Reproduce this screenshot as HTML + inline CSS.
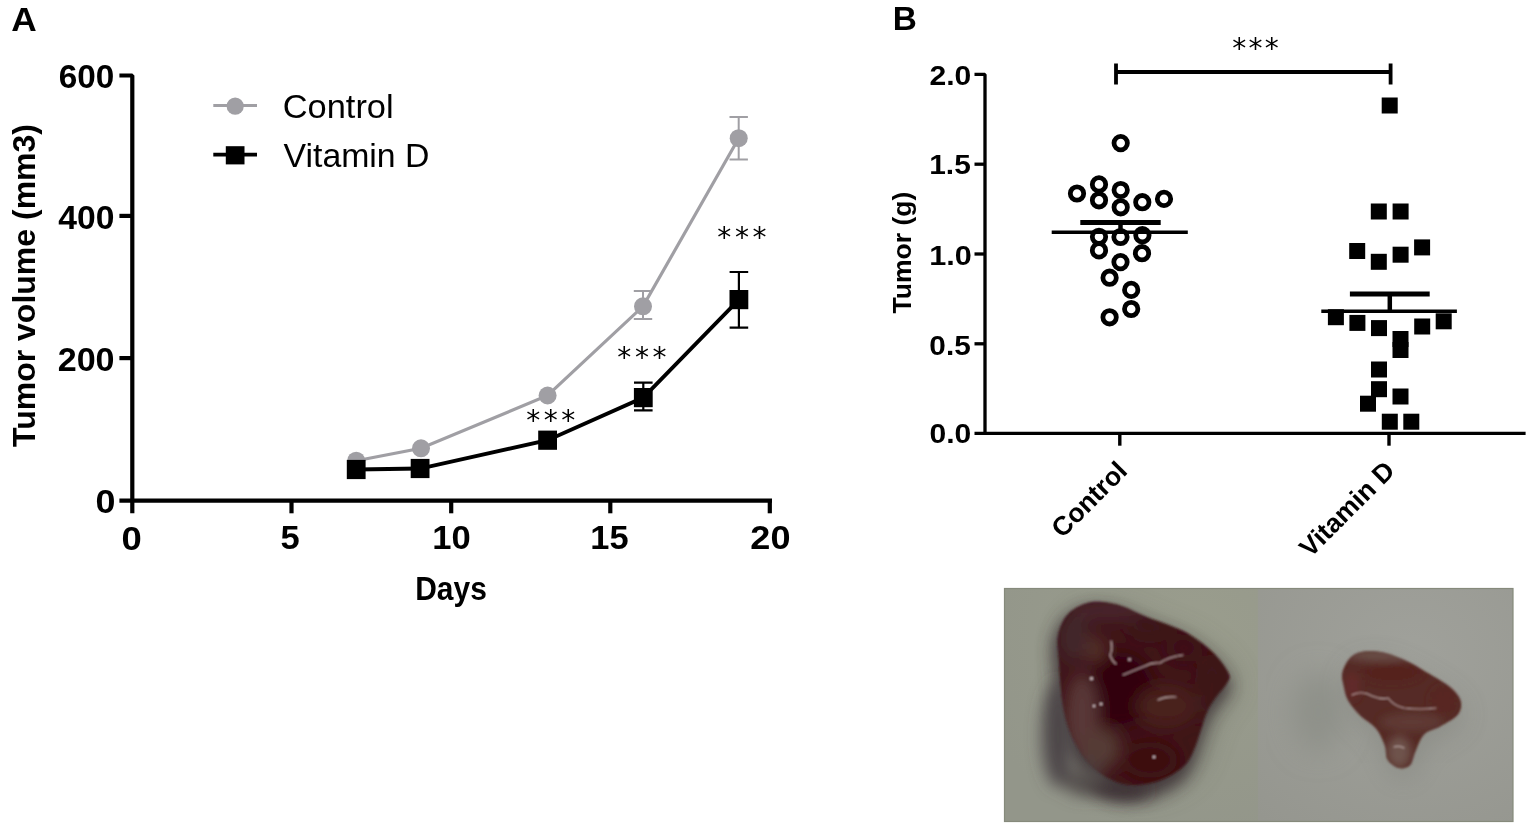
<!DOCTYPE html>
<html><head><meta charset="utf-8"><title>Figure</title>
<style>
html,body{margin:0;padding:0;background:#fff;}
body{width:1536px;height:831px;overflow:hidden;}
svg{display:block;}
svg text{font-family:"Liberation Sans", Arial, sans-serif;fill:#000;}
</style></head><body>
<svg width="1536" height="831" viewBox="0 0 1536 831">
<rect width="1536" height="831" fill="#fff"/>
<defs>
<clipPath id="cl"><rect x="1004" y="588" width="254.3" height="234"/></clipPath>
<clipPath id="cr"><rect x="1257.7" y="588" width="255.3" height="234"/></clipPath>
<clipPath id="tl"><path d="M1060.3 627.4 C1062.2 622.7 1064.6 617.3 1068.8 613.3 C1073.0 609.3 1080.1 605.4 1085.7 603.5 C1091.3 601.6 1096.5 601.6 1102.6 602.1 C1108.7 602.6 1115.3 603.9 1122.3 606.3 C1129.3 608.6 1137.3 613.2 1144.8 616.2 C1152.3 619.2 1160.3 621.8 1167.3 624.6 C1174.3 627.4 1180.4 629.4 1187.0 633.1 C1193.6 636.9 1201.2 642.4 1206.8 647.1 C1212.4 651.8 1217.0 656.5 1220.8 661.2 C1224.5 665.9 1228.3 671.5 1229.3 675.3 C1230.2 679.0 1228.8 680.0 1226.5 683.7 C1224.2 687.5 1218.5 693.1 1215.2 697.8 C1211.9 702.5 1209.2 706.7 1206.8 711.9 C1204.4 717.1 1203.0 723.2 1201.1 728.8 C1199.2 734.4 1197.8 740.1 1195.5 745.7 C1193.2 751.3 1190.8 757.9 1187.0 762.6 C1183.2 767.3 1178.6 770.6 1173.0 773.9 C1167.4 777.2 1160.3 780.4 1153.3 782.3 C1146.2 784.2 1137.8 785.6 1130.7 785.1 C1123.7 784.6 1117.1 782.3 1111.0 779.5 C1104.9 776.7 1099.3 772.9 1094.1 768.2 C1088.9 763.5 1084.2 757.9 1080.0 751.3 C1075.8 744.7 1071.6 736.3 1068.8 728.8 C1066.0 721.3 1064.5 714.3 1063.1 706.3 C1061.7 698.3 1061.0 688.9 1060.3 680.9 C1059.6 672.9 1059.4 665.0 1058.9 658.4 C1058.4 651.8 1057.3 646.7 1057.5 641.5 C1057.7 636.3 1058.4 632.1 1060.3 627.4Z"/></clipPath>
<clipPath id="tr"><path d="M1342.4 672.4 C1343.6 667.5 1347.1 660.5 1350.9 657.0 C1354.7 653.5 1359.4 652.0 1365.0 651.3 C1370.6 650.6 1377.7 651.1 1384.7 652.7 C1391.7 654.4 1400.2 657.9 1407.2 661.2 C1414.2 664.5 1419.9 668.2 1426.9 672.4 C1433.9 676.6 1443.8 681.8 1449.4 686.5 C1455.0 691.2 1459.2 695.9 1460.6 700.6 C1462.0 705.3 1461.1 710.5 1457.8 714.7 C1454.5 718.9 1446.5 722.6 1440.9 725.9 C1435.3 729.2 1428.3 730.2 1424.1 734.4 C1419.9 738.6 1417.9 746.1 1415.6 751.2 C1413.2 756.4 1412.8 762.5 1410.0 765.3 C1407.2 768.1 1402.5 769.0 1398.7 768.1 C1395.0 767.2 1389.8 763.5 1387.5 759.7 C1385.2 756.0 1386.6 750.8 1384.7 745.6 C1382.8 740.4 1380.4 733.9 1376.2 728.7 C1372.0 723.6 1364.0 719.4 1359.3 714.7 C1354.6 710.0 1350.7 705.3 1348.1 700.6 C1345.5 695.9 1344.8 691.2 1343.8 686.5 C1342.8 681.8 1341.2 677.3 1342.4 672.4Z"/></clipPath>
<filter id="b1" x="-20%" y="-20%" width="140%" height="140%"><feGaussianBlur stdDeviation="1.3"/></filter>
<filter id="b4" x="-50%" y="-50%" width="200%" height="200%"><feGaussianBlur stdDeviation="4"/></filter>
<filter id="b8" x="-50%" y="-50%" width="200%" height="200%"><feGaussianBlur stdDeviation="8"/></filter>
<filter id="b14" x="-50%" y="-50%" width="200%" height="200%"><feGaussianBlur stdDeviation="14"/></filter>
<radialGradient id="gl" cx="0.75" cy="0.2" r="0.9"><stop offset="0" stop-color="#9a9d8d"/><stop offset="1" stop-color="#93968a"/></radialGradient>
<radialGradient id="gr" cx="0.6" cy="0.3" r="0.9"><stop offset="0" stop-color="#a0a19b"/><stop offset="1" stop-color="#95968f"/></radialGradient>
</defs>
<g clip-path="url(#cl)">
<rect x="1004" y="588" width="254.5" height="234" fill="url(#gl)"/>
<g filter="url(#b14)" opacity="0.5"><path d="M1060.3 627.4 C1062.2 622.7 1064.6 617.3 1068.8 613.3 C1073.0 609.3 1080.1 605.4 1085.7 603.5 C1091.3 601.6 1096.5 601.6 1102.6 602.1 C1108.7 602.6 1115.3 603.9 1122.3 606.3 C1129.3 608.6 1137.3 613.2 1144.8 616.2 C1152.3 619.2 1160.3 621.8 1167.3 624.6 C1174.3 627.4 1180.4 629.4 1187.0 633.1 C1193.6 636.9 1201.2 642.4 1206.8 647.1 C1212.4 651.8 1217.0 656.5 1220.8 661.2 C1224.5 665.9 1228.3 671.5 1229.3 675.3 C1230.2 679.0 1228.8 680.0 1226.5 683.7 C1224.2 687.5 1218.5 693.1 1215.2 697.8 C1211.9 702.5 1209.2 706.7 1206.8 711.9 C1204.4 717.1 1203.0 723.2 1201.1 728.8 C1199.2 734.4 1197.8 740.1 1195.5 745.7 C1193.2 751.3 1190.8 757.9 1187.0 762.6 C1183.2 767.3 1178.6 770.6 1173.0 773.9 C1167.4 777.2 1160.3 780.4 1153.3 782.3 C1146.2 784.2 1137.8 785.6 1130.7 785.1 C1123.7 784.6 1117.1 782.3 1111.0 779.5 C1104.9 776.7 1099.3 772.9 1094.1 768.2 C1088.9 763.5 1084.2 757.9 1080.0 751.3 C1075.8 744.7 1071.6 736.3 1068.8 728.8 C1066.0 721.3 1064.5 714.3 1063.1 706.3 C1061.7 698.3 1061.0 688.9 1060.3 680.9 C1059.6 672.9 1059.4 665.0 1058.9 658.4 C1058.4 651.8 1057.3 646.7 1057.5 641.5 C1057.7 636.3 1058.4 632.1 1060.3 627.4Z" transform="translate(6 8)" fill="#55574e"/></g>
<g filter="url(#b8)" opacity="0.95"><path d="M1060.3 627.4 C1062.2 622.7 1064.6 617.3 1068.8 613.3 C1073.0 609.3 1080.1 605.4 1085.7 603.5 C1091.3 601.6 1096.5 601.6 1102.6 602.1 C1108.7 602.6 1115.3 603.9 1122.3 606.3 C1129.3 608.6 1137.3 613.2 1144.8 616.2 C1152.3 619.2 1160.3 621.8 1167.3 624.6 C1174.3 627.4 1180.4 629.4 1187.0 633.1 C1193.6 636.9 1201.2 642.4 1206.8 647.1 C1212.4 651.8 1217.0 656.5 1220.8 661.2 C1224.5 665.9 1228.3 671.5 1229.3 675.3 C1230.2 679.0 1228.8 680.0 1226.5 683.7 C1224.2 687.5 1218.5 693.1 1215.2 697.8 C1211.9 702.5 1209.2 706.7 1206.8 711.9 C1204.4 717.1 1203.0 723.2 1201.1 728.8 C1199.2 734.4 1197.8 740.1 1195.5 745.7 C1193.2 751.3 1190.8 757.9 1187.0 762.6 C1183.2 767.3 1178.6 770.6 1173.0 773.9 C1167.4 777.2 1160.3 780.4 1153.3 782.3 C1146.2 784.2 1137.8 785.6 1130.7 785.1 C1123.7 784.6 1117.1 782.3 1111.0 779.5 C1104.9 776.7 1099.3 772.9 1094.1 768.2 C1088.9 763.5 1084.2 757.9 1080.0 751.3 C1075.8 744.7 1071.6 736.3 1068.8 728.8 C1066.0 721.3 1064.5 714.3 1063.1 706.3 C1061.7 698.3 1061.0 688.9 1060.3 680.9 C1059.6 672.9 1059.4 665.0 1058.9 658.4 C1058.4 651.8 1057.3 646.7 1057.5 641.5 C1057.7 636.3 1058.4 632.1 1060.3 627.4Z" transform="translate(1130 690) scale(1.03 1.05) translate(-1133 -680)" fill="#42383a"/></g>
<g filter="url(#b8)"><ellipse cx="1058" cy="735" rx="16" ry="52" fill="#4e4648"/><ellipse cx="1085" cy="782" rx="22" ry="14" fill="#55504e"/><ellipse cx="1118" cy="790" rx="30" ry="9" fill="#3e3234"/></g>
<g filter="url(#b1)">
<path d="M1060.3 627.4 C1062.2 622.7 1064.6 617.3 1068.8 613.3 C1073.0 609.3 1080.1 605.4 1085.7 603.5 C1091.3 601.6 1096.5 601.6 1102.6 602.1 C1108.7 602.6 1115.3 603.9 1122.3 606.3 C1129.3 608.6 1137.3 613.2 1144.8 616.2 C1152.3 619.2 1160.3 621.8 1167.3 624.6 C1174.3 627.4 1180.4 629.4 1187.0 633.1 C1193.6 636.9 1201.2 642.4 1206.8 647.1 C1212.4 651.8 1217.0 656.5 1220.8 661.2 C1224.5 665.9 1228.3 671.5 1229.3 675.3 C1230.2 679.0 1228.8 680.0 1226.5 683.7 C1224.2 687.5 1218.5 693.1 1215.2 697.8 C1211.9 702.5 1209.2 706.7 1206.8 711.9 C1204.4 717.1 1203.0 723.2 1201.1 728.8 C1199.2 734.4 1197.8 740.1 1195.5 745.7 C1193.2 751.3 1190.8 757.9 1187.0 762.6 C1183.2 767.3 1178.6 770.6 1173.0 773.9 C1167.4 777.2 1160.3 780.4 1153.3 782.3 C1146.2 784.2 1137.8 785.6 1130.7 785.1 C1123.7 784.6 1117.1 782.3 1111.0 779.5 C1104.9 776.7 1099.3 772.9 1094.1 768.2 C1088.9 763.5 1084.2 757.9 1080.0 751.3 C1075.8 744.7 1071.6 736.3 1068.8 728.8 C1066.0 721.3 1064.5 714.3 1063.1 706.3 C1061.7 698.3 1061.0 688.9 1060.3 680.9 C1059.6 672.9 1059.4 665.0 1058.9 658.4 C1058.4 651.8 1057.3 646.7 1057.5 641.5 C1057.7 636.3 1058.4 632.1 1060.3 627.4Z" fill="#3f1418"/>
<g clip-path="url(#tl)"><g filter="url(#b8)">
<ellipse cx="1120" cy="690" rx="34" ry="38" fill="#32050a"/>
<ellipse cx="1074" cy="638" rx="18" ry="26" fill="#43282b"/>
<ellipse cx="1110" cy="610" rx="40" ry="9" fill="#4a2c30"/>
<ellipse cx="1150" cy="628" rx="22" ry="10" fill="#3a1414"/>
<ellipse cx="1184" cy="648" rx="18" ry="14" fill="#3e0e12"/>
<ellipse cx="1212" cy="690" rx="12" ry="35" fill="#3e1818"/>
<ellipse cx="1082" cy="715" rx="16" ry="42" fill="#5a3838"/>
<ellipse cx="1102" cy="748" rx="18" ry="20" fill="#553a36"/>
<ellipse cx="1166" cy="706" rx="30" ry="20" fill="#48231f"/>
<ellipse cx="1150" cy="760" rx="28" ry="18" fill="#3c090e"/>
<ellipse cx="1085" cy="772" rx="18" ry="16" fill="#4e3a3a"/>
<ellipse cx="1096" cy="650" rx="10" ry="13" fill="#54302a"/>
</g></g>
<g fill="none" stroke="#d8c4c4" stroke-width="1.2" stroke-linecap="round" opacity="0.8">
<path d="M1111 641 Q1113 650 1110 655 Q1112 661 1116 664"/>
<path d="M1123 675 Q1135 670 1145 666 Q1152 662 1160 663 Q1168 657 1183 655"/>
<path d="M1158 700 Q1166 696 1176 697"/>
</g>
<g fill="#d8c4c8"><circle cx="1091.5" cy="678.5" r="1.5"/><circle cx="1101" cy="704" r="1.3"/><circle cx="1094" cy="706" r="1.2"/><circle cx="1154" cy="757" r="1.3"/><circle cx="1129.5" cy="659.5" r="1.3"/></g>
</g>
</g>
<g clip-path="url(#cr)">
<rect x="1257.7" y="588" width="256" height="234" fill="url(#gr)"/>
<g filter="url(#b14)" opacity="0.3"><path d="M1342.4 672.4 C1343.6 667.5 1347.1 660.5 1350.9 657.0 C1354.7 653.5 1359.4 652.0 1365.0 651.3 C1370.6 650.6 1377.7 651.1 1384.7 652.7 C1391.7 654.4 1400.2 657.9 1407.2 661.2 C1414.2 664.5 1419.9 668.2 1426.9 672.4 C1433.9 676.6 1443.8 681.8 1449.4 686.5 C1455.0 691.2 1459.2 695.9 1460.6 700.6 C1462.0 705.3 1461.1 710.5 1457.8 714.7 C1454.5 718.9 1446.5 722.6 1440.9 725.9 C1435.3 729.2 1428.3 730.2 1424.1 734.4 C1419.9 738.6 1417.9 746.1 1415.6 751.2 C1413.2 756.4 1412.8 762.5 1410.0 765.3 C1407.2 768.1 1402.5 769.0 1398.7 768.1 C1395.0 767.2 1389.8 763.5 1387.5 759.7 C1385.2 756.0 1386.6 750.8 1384.7 745.6 C1382.8 740.4 1380.4 733.9 1376.2 728.7 C1372.0 723.6 1364.0 719.4 1359.3 714.7 C1354.6 710.0 1350.7 705.3 1348.1 700.6 C1345.5 695.9 1344.8 691.2 1343.8 686.5 C1342.8 681.8 1341.2 677.3 1342.4 672.4Z" transform="translate(2 10)" fill="#6a6c66"/></g>
<g filter="url(#b14)"><ellipse cx="1318" cy="712" rx="26" ry="40" fill="#8c8d87" opacity="0.8"/></g>
<g filter="url(#b1)">
<path d="M1342.4 672.4 C1343.6 667.5 1347.1 660.5 1350.9 657.0 C1354.7 653.5 1359.4 652.0 1365.0 651.3 C1370.6 650.6 1377.7 651.1 1384.7 652.7 C1391.7 654.4 1400.2 657.9 1407.2 661.2 C1414.2 664.5 1419.9 668.2 1426.9 672.4 C1433.9 676.6 1443.8 681.8 1449.4 686.5 C1455.0 691.2 1459.2 695.9 1460.6 700.6 C1462.0 705.3 1461.1 710.5 1457.8 714.7 C1454.5 718.9 1446.5 722.6 1440.9 725.9 C1435.3 729.2 1428.3 730.2 1424.1 734.4 C1419.9 738.6 1417.9 746.1 1415.6 751.2 C1413.2 756.4 1412.8 762.5 1410.0 765.3 C1407.2 768.1 1402.5 769.0 1398.7 768.1 C1395.0 767.2 1389.8 763.5 1387.5 759.7 C1385.2 756.0 1386.6 750.8 1384.7 745.6 C1382.8 740.4 1380.4 733.9 1376.2 728.7 C1372.0 723.6 1364.0 719.4 1359.3 714.7 C1354.6 710.0 1350.7 705.3 1348.1 700.6 C1345.5 695.9 1344.8 691.2 1343.8 686.5 C1342.8 681.8 1341.2 677.3 1342.4 672.4Z" fill="#552a25"/>
<g clip-path="url(#tr)"><g filter="url(#b4)">
<ellipse cx="1380" cy="655" rx="35" ry="6" fill="#6a5048"/>
<ellipse cx="1392" cy="672" rx="30" ry="10" fill="#54221f"/>
<ellipse cx="1352" cy="686" rx="7" ry="14" fill="#642a2a"/>
<ellipse cx="1443" cy="701" rx="12" ry="14" fill="#582824"/>
<ellipse cx="1412" cy="722" rx="32" ry="9" fill="#5f3a35"/>
<ellipse cx="1399" cy="752" rx="12" ry="16" fill="#6e524c"/>
</g></g>
<g fill="none" stroke="#dcc8c8" stroke-width="1.1" stroke-linecap="round" opacity="0.7">
<path d="M1352 695 Q1362 690 1372 696 Q1382 700 1388 698 Q1394 706 1404 708 Q1420 710 1436 708"/>
<path d="M1394 747 Q1399 745 1404 748"/>
</g>
</g>
</g>
<rect x="1004.5" y="588.5" width="508.5" height="233" fill="none" stroke="#868a7c" stroke-width="1.2"/>
<g>
<path d="M119.4 75.5 H132.3 V513.3" stroke="#000" stroke-width="4.2" fill="none" stroke-linejoin="bevel"/>
<path d="M119.4 500.6 H772" stroke="#000" stroke-width="4.2" fill="none"/>
<line x1="119.4" y1="215.9" x2="132.3" y2="215.9" stroke="#000" stroke-width="4.2"/>
<line x1="119.4" y1="358.1" x2="132.3" y2="358.1" stroke="#000" stroke-width="4.2"/>
<path d="M769.8 500.6 V513.3" stroke="#000" stroke-width="4.2" fill="none"/>
<line x1="291.5" y1="500.6" x2="291.5" y2="513.3" stroke="#000" stroke-width="4.2"/>
<line x1="451.2" y1="500.6" x2="451.2" y2="513.3" stroke="#000" stroke-width="4.2"/>
<line x1="610.3" y1="500.6" x2="610.3" y2="513.3" stroke="#000" stroke-width="4.2"/>
<polyline points="356.2,460.7 421.0,448.3 547.6,395.5 643.0,306.3 738.7,138.2" stroke="#a09fa4" stroke-width="3.2" fill="none"/>
<path d="M643.0 291.0 V319.0 M633.8 291.0 H652.2 M633.8 319.0 H652.2" stroke="#a09fa4" stroke-width="2" fill="none"/>
<path d="M738.7 117.1 V159.5 M729.5 117.1 H747.9000000000001 M729.5 159.5 H747.9000000000001" stroke="#a09fa4" stroke-width="2" fill="none"/>
<circle cx="356.2" cy="460.7" r="9" fill="#a09fa4"/>
<circle cx="421.0" cy="448.3" r="9" fill="#a09fa4"/>
<circle cx="547.6" cy="395.5" r="9" fill="#a09fa4"/>
<circle cx="643.0" cy="306.3" r="9" fill="#a09fa4"/>
<circle cx="738.7" cy="138.2" r="9" fill="#a09fa4"/>
<polyline points="356.2,469.5 420.1,468.5 547.6,440.2 643.3,397.6 738.9,299.6" stroke="#000" stroke-width="3.8" fill="none"/>
<path d="M643.3 382.7 V410.3 M634.0 382.7 H652.5999999999999 M634.0 410.3 H652.5999999999999" stroke="#000" stroke-width="2.2" fill="none"/>
<path d="M738.9 272.0 V327.6 M729.6 272.0 H748.1999999999999 M729.6 327.6 H748.1999999999999" stroke="#000" stroke-width="2.2" fill="none"/>
<rect x="346.8" y="459.9" width="18.8" height="19.2" fill="#000"/>
<rect x="410.70000000000005" y="458.9" width="18.8" height="19.2" fill="#000"/>
<rect x="538.2" y="430.59999999999997" width="18.8" height="19.2" fill="#000"/>
<rect x="633.9" y="388.0" width="18.8" height="19.2" fill="#000"/>
<rect x="729.5" y="290.0" width="18.8" height="19.2" fill="#000"/>
<line x1="213.3" y1="105.5" x2="257" y2="105.5" stroke="#a09fa4" stroke-width="3.2"/>
<circle cx="235.2" cy="106.2" r="8.6" fill="#a09fa4"/>
<line x1="213.3" y1="154.7" x2="257" y2="154.7" stroke="#000" stroke-width="3.8"/>
<rect x="225.8" y="146.2" width="18.7" height="18.2" fill="#000"/>
</g>
<g>
<path d="M974.5 74.4 H985 V433.6" stroke="#000" stroke-width="3.3" fill="none" stroke-linejoin="bevel"/>
<path d="M974.5 433.4 H1525.6" stroke="#000" stroke-width="3.4" fill="none"/>
<line x1="974.5" y1="164.2" x2="985" y2="164.2" stroke="#000" stroke-width="3.3"/>
<line x1="974.5" y1="254.0" x2="985" y2="254.0" stroke="#000" stroke-width="3.3"/>
<line x1="974.5" y1="343.8" x2="985" y2="343.8" stroke="#000" stroke-width="3.3"/>
<line x1="1119.8" y1="433.6" x2="1119.8" y2="445.7" stroke="#000" stroke-width="3.4"/>
<line x1="1389.0" y1="433.6" x2="1389.0" y2="445.7" stroke="#000" stroke-width="3.4"/>
<path d="M1116 63.5 V84.4 M1390.6 63.5 V84.4 M1116 72 H1390.6" stroke="#000" stroke-width="3.8" fill="none"/>
<circle cx="1120.7" cy="143.1" r="6.7" fill="none" stroke="#000" stroke-width="4.8"/>
<circle cx="1077" cy="193.5" r="6.7" fill="none" stroke="#000" stroke-width="4.8"/>
<circle cx="1099" cy="184.4" r="6.7" fill="none" stroke="#000" stroke-width="4.8"/>
<circle cx="1099" cy="200.3" r="6.7" fill="none" stroke="#000" stroke-width="4.8"/>
<circle cx="1120.7" cy="190" r="6.7" fill="none" stroke="#000" stroke-width="4.8"/>
<circle cx="1120.7" cy="207.3" r="6.7" fill="none" stroke="#000" stroke-width="4.8"/>
<circle cx="1142.3" cy="202.2" r="6.7" fill="none" stroke="#000" stroke-width="4.8"/>
<circle cx="1164" cy="198.9" r="6.7" fill="none" stroke="#000" stroke-width="4.8"/>
<circle cx="1099" cy="236.75" r="6.7" fill="none" stroke="#000" stroke-width="4.8"/>
<circle cx="1120.5" cy="237" r="6.7" fill="none" stroke="#000" stroke-width="4.8"/>
<circle cx="1142.4" cy="235.2" r="6.7" fill="none" stroke="#000" stroke-width="4.8"/>
<circle cx="1099" cy="250.4" r="6.7" fill="none" stroke="#000" stroke-width="4.8"/>
<circle cx="1142" cy="253.2" r="6.7" fill="none" stroke="#000" stroke-width="4.8"/>
<circle cx="1120.5" cy="262.1" r="6.7" fill="none" stroke="#000" stroke-width="4.8"/>
<circle cx="1109.6" cy="277.7" r="6.7" fill="none" stroke="#000" stroke-width="4.8"/>
<circle cx="1131.2" cy="289.9" r="6.7" fill="none" stroke="#000" stroke-width="4.8"/>
<circle cx="1131.2" cy="309" r="6.7" fill="none" stroke="#000" stroke-width="4.8"/>
<circle cx="1109.6" cy="317.3" r="6.7" fill="none" stroke="#000" stroke-width="4.8"/>
<line x1="1051.7" y1="232.3" x2="1187.8" y2="232.3" stroke="#000" stroke-width="3.6"/>
<line x1="1080.3" y1="222.5" x2="1160.7" y2="222.5" stroke="#000" stroke-width="5"/>
<line x1="1120.5" y1="222.5" x2="1120.5" y2="232.3" stroke="#000" stroke-width="4.5"/>
<rect x="1381.7" y="97.5" width="16" height="16" fill="#000"/>
<rect x="1370.8" y="203.5" width="16" height="16" fill="#000"/>
<rect x="1392.6" y="203.5" width="16" height="16" fill="#000"/>
<rect x="1349.2" y="243" width="16" height="16" fill="#000"/>
<rect x="1370.8" y="253.8" width="16" height="16" fill="#000"/>
<rect x="1392.6" y="246.7" width="16" height="16" fill="#000"/>
<rect x="1414.1" y="239.4" width="16" height="16" fill="#000"/>
<rect x="1327.9" y="309.2" width="16" height="16" fill="#000"/>
<rect x="1349.4" y="314.9" width="16" height="16" fill="#000"/>
<rect x="1371" y="320.1" width="16" height="16" fill="#000"/>
<rect x="1392.5" y="331" width="16" height="16" fill="#000"/>
<rect x="1392.5" y="342" width="16" height="16" fill="#000"/>
<rect x="1414.2" y="318.5" width="16" height="16" fill="#000"/>
<rect x="1435.7" y="313.3" width="16" height="16" fill="#000"/>
<rect x="1371" y="361.5" width="16" height="16" fill="#000"/>
<rect x="1371" y="381.2" width="16" height="16" fill="#000"/>
<rect x="1360" y="395.7" width="16" height="16" fill="#000"/>
<rect x="1392.5" y="388.5" width="16" height="16" fill="#000"/>
<rect x="1381.8" y="413.7" width="16" height="16" fill="#000"/>
<rect x="1403.3" y="413.7" width="16" height="16" fill="#000"/>
<line x1="1321.3" y1="311.2" x2="1456.9" y2="311.2" stroke="#000" stroke-width="3.6"/>
<line x1="1349.9" y1="294" x2="1429.7" y2="294" stroke="#000" stroke-width="5"/>
<line x1="1389.8" y1="294" x2="1389.8" y2="311.2" stroke="#000" stroke-width="4.5"/>
</g>
<text x="11.16" y="30.75" font-size="34" font-weight="bold" textLength="25.49" lengthAdjust="spacingAndGlyphs">A</text>
<text x="114.33" y="87.60" font-size="32.5" font-weight="bold" text-anchor="end" textLength="55.61" lengthAdjust="spacingAndGlyphs">600</text>
<text x="114.55" y="228.90" font-size="32.5" font-weight="bold" text-anchor="end" textLength="56.21" lengthAdjust="spacingAndGlyphs">400</text>
<text x="114.55" y="370.80" font-size="32.5" font-weight="bold" text-anchor="end" textLength="56.86" lengthAdjust="spacingAndGlyphs">200</text>
<text x="115.54" y="513.05" font-size="32.5" font-weight="bold" text-anchor="end" textLength="19.95" lengthAdjust="spacingAndGlyphs">0</text>
<text x="131.51" y="549.75" font-size="32.5" font-weight="bold" text-anchor="middle" textLength="20.27" lengthAdjust="spacingAndGlyphs">0</text>
<text x="290.01" y="549.20" font-size="32.5" font-weight="bold" text-anchor="middle" textLength="19.17" lengthAdjust="spacingAndGlyphs">5</text>
<text x="451.45" y="549.20" font-size="32.5" font-weight="bold" text-anchor="middle" textLength="38.45" lengthAdjust="spacingAndGlyphs">10</text>
<text x="609.44" y="549.20" font-size="32.5" font-weight="bold" text-anchor="middle" textLength="38.25" lengthAdjust="spacingAndGlyphs">15</text>
<text x="770.44" y="549.20" font-size="32.5" font-weight="bold" text-anchor="middle" textLength="40.11" lengthAdjust="spacingAndGlyphs">20</text>
<text x="451.01" y="600.10" font-size="33" font-weight="bold" text-anchor="middle" textLength="71.54" lengthAdjust="spacingAndGlyphs">Days</text>
<text transform="translate(35.30 285.50) rotate(-90)" font-size="32" font-weight="bold" text-anchor="middle">Tumor volume (mm3)</text>
<text x="550.80" y="429.95" font-size="28" font-family="DejaVu Sans, sans-serif" style="font-family:'DejaVu Sans',sans-serif" text-anchor="middle" textLength="49.12" lengthAdjust="spacing">***</text>
<text x="641.97" y="366.80" font-size="28" font-family="DejaVu Sans, sans-serif" style="font-family:'DejaVu Sans',sans-serif" text-anchor="middle" textLength="49.27" lengthAdjust="spacing">***</text>
<text x="741.97" y="247.30" font-size="28" font-family="DejaVu Sans, sans-serif" style="font-family:'DejaVu Sans',sans-serif" text-anchor="middle" textLength="49.30" lengthAdjust="spacing">***</text>
<text x="282.73" y="117.70" font-size="33" textLength="110.95" lengthAdjust="spacingAndGlyphs">Control</text>
<text x="283.59" y="166.85" font-size="33" textLength="145.90" lengthAdjust="spacingAndGlyphs">Vitamin D</text>
<text x="892.77" y="30.40" font-size="34" font-weight="bold" textLength="24.09" lengthAdjust="spacingAndGlyphs">B</text>
<text x="971.30" y="84.90" font-size="28" font-weight="bold" text-anchor="end" textLength="41.83" lengthAdjust="spacingAndGlyphs">2.0</text>
<text x="970.80" y="174.15" font-size="28" font-weight="bold" text-anchor="end" textLength="41.52" lengthAdjust="spacingAndGlyphs">1.5</text>
<text x="971.82" y="264.95" font-size="28" font-weight="bold" text-anchor="end" textLength="42.58" lengthAdjust="spacingAndGlyphs">1.0</text>
<text x="970.77" y="354.75" font-size="28" font-weight="bold" text-anchor="end" textLength="41.38" lengthAdjust="spacingAndGlyphs">0.5</text>
<text x="971.28" y="443.10" font-size="28" font-weight="bold" text-anchor="end" textLength="41.80" lengthAdjust="spacingAndGlyphs">0.0</text>
<text transform="translate(910.80 252.60) rotate(-90)" font-size="26.5" font-weight="bold" text-anchor="middle">Tumor (g)</text>
<text transform="translate(1128.80 472.50) rotate(-45)" font-size="26.5" font-weight="bold" text-anchor="end">Control</text>
<text transform="translate(1396.40 472.30) rotate(-45)" font-size="26.5" font-weight="bold" text-anchor="end">Vitamin D</text>
<text x="1255.44" y="57.75" font-size="28" font-family="DejaVu Sans, sans-serif" style="font-family:'DejaVu Sans',sans-serif" text-anchor="middle" textLength="46.45" lengthAdjust="spacing">***</text>
</svg>
</body></html>
